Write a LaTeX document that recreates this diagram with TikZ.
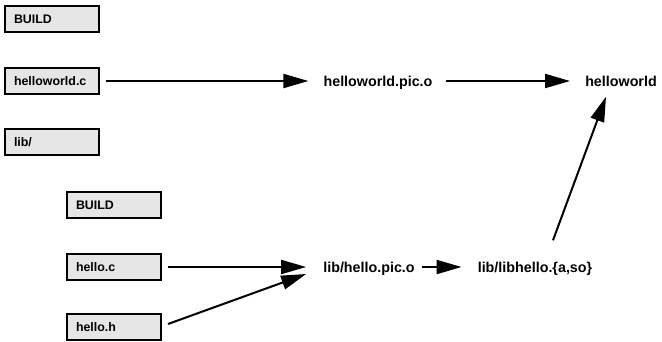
\documentclass[tikz,border=0pt]{standalone}
\usepackage{fontspec}
\setmainfont{Liberation Sans}
\usetikzlibrary{arrows.meta}
\definecolor{boxgray}{HTML}{E6E6E6}
\newcommand{\boxfont}{\fontsize{12.4pt}{14pt}\selectfont\bfseries}
\newcommand{\labfont}{\fontsize{14.3pt}{16pt}\selectfont\bfseries}
\tikzset{
  filebox/.style={draw, line width=2pt, fill=boxgray, minimum height=26pt,
    text width=76pt, inner xsep=9pt, inner ysep=0pt, align=left, font=\boxfont,
    text height=9pt, text depth=0pt},
  target/.style={inner sep=0pt, font=\labfont, text height=11pt, text depth=0pt},
  arr/.style={line width=2pt, -{Triangle[length=25pt,width=14pt]}}
}
\begin{document}
\begin{tikzpicture}[x=1pt,y=-1pt]
\useasboundingbox (0,0) rectangle (662,341);
\node[filebox] (b1) at (52,19) {BUILD};
\node[filebox] (hwc) at (52,81) {helloworld.c};
\node[filebox] (lib) at (52,142) {lib/};
\node[filebox] (b2) at (114,205) {BUILD};
\node[filebox] (hc) at (114,267) {hello.c};
\node[filebox] (hh) at (114,327) {hello.h};
\node[target] (hwo) at (378,81) {helloworld.pic.o};
\node[target] (hw) at (621,81) {helloworld};
\node[target] (lpo) at (369,267) {lib/hello.pic.o};
\node[target] (lh) at (535,267) {lib/libhello.\{a,so\}};
\draw[arr] ([xshift=6pt]hwc.east) -- ([xshift=-15pt]hwo.west);
\draw[arr] ([xshift=13pt]hwo.east) -- ([xshift=-15pt]hw.west);
\draw[arr] ([xshift=6pt]hc.east) -- ([xshift=-17pt]lpo.west);
\draw[arr] ([shift={(6,-3)}]hh.east) -- ([shift={(-17,7)}]lpo.west);
\draw[arr] ([xshift=7pt]lpo.east) -- ([xshift=-16pt]lh.west);
\draw[arr] ([shift={(18,-21)}]lh.north) -- ([shift={(-15,10)}]hw.south);
\end{tikzpicture}
\end{document}
